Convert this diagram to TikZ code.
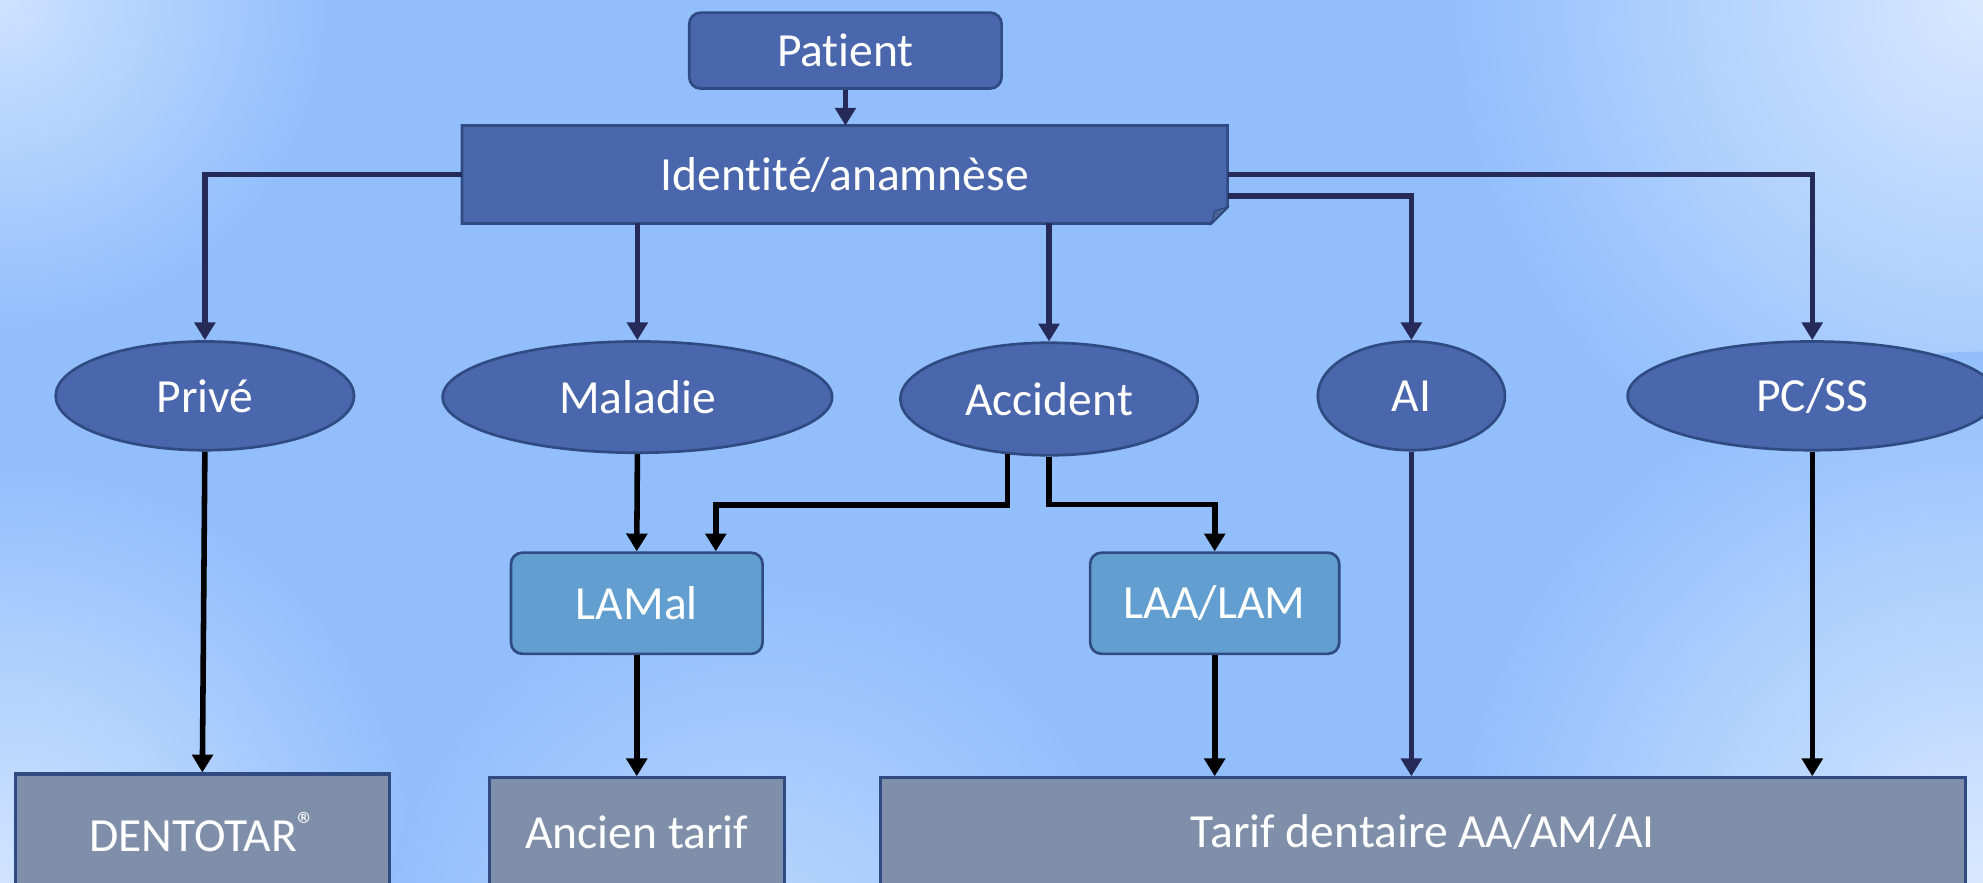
\documentclass[tikz,border=0pt]{standalone}
\usepackage{fontspec}
\setmainfont{Carlito}[Ligatures=NoCommon,RawFeature={-liga,-dlig,-clig}]
\usetikzlibrary{shapes.geometric,arrows.meta,calc}
\definecolor{bg}{HTML}{92BFFC}
\definecolor{bglight}{HTML}{D8E8FF}
\definecolor{nodeblue}{HTML}{4A66AD}
\definecolor{nodeedge}{HTML}{2F4B82}
\definecolor{lightbox}{HTML}{629ECF}
\definecolor{greybox}{HTML}{7F8FA9}
\definecolor{navy}{HTML}{262A59}
\pgfdeclarelayer{bglayer}
\pgfdeclarelayer{shapelayer}
\pgfsetlayers{bglayer,shapelayer,main}
\tikzset{
  txt/.style={text=white,font=\fontsize{10.7}{12}\selectfont,inner sep=0pt},
  darkround/.style={txt,rectangle,rounded corners=0.9mm,fill=nodeblue,draw=nodeedge,line width=0.6pt},
  lightround/.style={txt,rectangle,rounded corners=0.9mm,fill=lightbox,draw=nodeedge,line width=0.6pt},
  oval/.style={txt,ellipse,fill=nodeblue,draw=nodeedge,line width=0.6pt},
  greyrect/.style={txt,rectangle,fill=greybox,draw=nodeedge,line width=0.7pt},
  navyarrow/.style={draw=navy,line width=1.25pt,-{Triangle[length=4pt,width=4.6pt]}},
  blackarrow/.style={draw=black,line width=1.25pt,-{Triangle[length=4pt,width=4.6pt]}},
}
\begin{document}
\begin{tikzpicture}[x=0.1mm,y=-0.1mm]
\useasboundingbox (0,0) rectangle (1568,698);
\begin{pgfonlayer}{bglayer}
  \begin{scope}
    \clip (0,0) rectangle (1568,698);
    \fill[bg] (0,0) rectangle (1568,698);
    \shade[inner color=bglight,outer color=bg] (1568,0) circle (420);
    \shade[inner color=bglight!85!bg,outer color=bg] (0,0) circle (260);
    \shade[inner color=bglight!90!bg,outer color=bg] (0,698) circle (330);
    \shade[inner color=bglight,outer color=bg] (1568,698) circle (420);
    \shade[inner color=bglight!60!bg,outer color=bg] (600,760) circle (300);
  \end{scope}
\end{pgfonlayer}

% nodes
\node[darkround,minimum width=24.7mm,minimum height=6.0mm] (patient) at (668.5,40) {Patient};
\node[txt,rectangle,minimum width=60.4mm,minimum height=7.6mm] (ident) at (668,138) {Identité/anamnèse};
\begin{pgfonlayer}{shapelayer}
  \filldraw[fill=nodeblue,draw=nodeedge,line width=0.6pt]
    (ident.north west) -- (ident.north east) -- ([yshift=1.3mm]ident.south east)
    -- ([xshift=-1.3mm]ident.south east) -- (ident.south west) -- cycle;
  \filldraw[fill=nodeedge!85,draw=nodeedge,line width=0.3pt]
    ([xshift=-1.3mm]ident.south east) -- ([xshift=-1.0mm,yshift=1.0mm]ident.south east)
    -- ([yshift=1.3mm]ident.south east) -- cycle;
\end{pgfonlayer}

\node[oval,minimum width=23.6mm,minimum height=8.6mm] (prive) at (162,313) {Privé};
\node[oval,minimum width=30.8mm,minimum height=8.8mm] (maladie) at (504,314) {Maladie};
\node[oval,minimum width=23.5mm,minimum height=8.9mm] (accident) at (829.5,315.5) {Accident};
\node[oval,minimum width=14.8mm,minimum height=8.6mm] (ai) at (1116,313) {AI};
\node[oval,minimum width=29.2mm,minimum height=8.6mm] (pcss) at (1433,313) {PC/SS};

\node[lightround,minimum width=19.9mm,minimum height=8.0mm] (lamal) at (503.5,477) {LAMal};
\node[lightround,minimum width=19.7mm,minimum height=8.0mm] (laa) at (960.5,477) {LAA/LAM};

\node[greyrect,minimum width=29.6mm,minimum height=9.2mm] (dentotar) at (160,658) {DENTOTAR\raisebox{0.3em}{\fontsize{8.2}{8}\selectfont ®}};
\node[greyrect,minimum width=23.3mm,minimum height=8.6mm] (ancien) at (503.5,658) {Ancien tarif};
\node[greyrect,minimum width=85.8mm,minimum height=8.6mm] (tarif) at (1125,658) {Tarif dentaire AA/AM/AI};

% connectors from top
\draw[navyarrow] (patient.south) -- (patient.south |- ident.north);
\draw[navyarrow] (ident.west) -| (prive.north);
\draw[navyarrow] (ident.east) -| (pcss.north);
\draw[navyarrow] ([yshift=-1.7mm]ident.east) -| (ai.north);
\draw[navyarrow] (ident.south -| maladie.north) -- (maladie.north);
\draw[navyarrow] (ident.south -| accident.north) -- (accident.north);

% lower connectors
\draw[blackarrow] (prive.south) -- (dentotar.north);
\draw[blackarrow] (maladie.south) -- (lamal.north);
\draw[blackarrow] (accident.233) -- ++(0,40) -| ([xshift=6.25mm]lamal.north);
\draw[blackarrow] (accident.south) -- ++(0,38) -| (laa.north);
\draw[blackarrow] (lamal.south) -- (ancien.north);
\draw[blackarrow] (laa.south) -- (laa.south |- tarif.north);
\draw[navyarrow] (ai.south) -- (ai.south |- tarif.north);
\draw[blackarrow] (pcss.south) -- (pcss.south |- tarif.north);
\end{tikzpicture}
\end{document}
